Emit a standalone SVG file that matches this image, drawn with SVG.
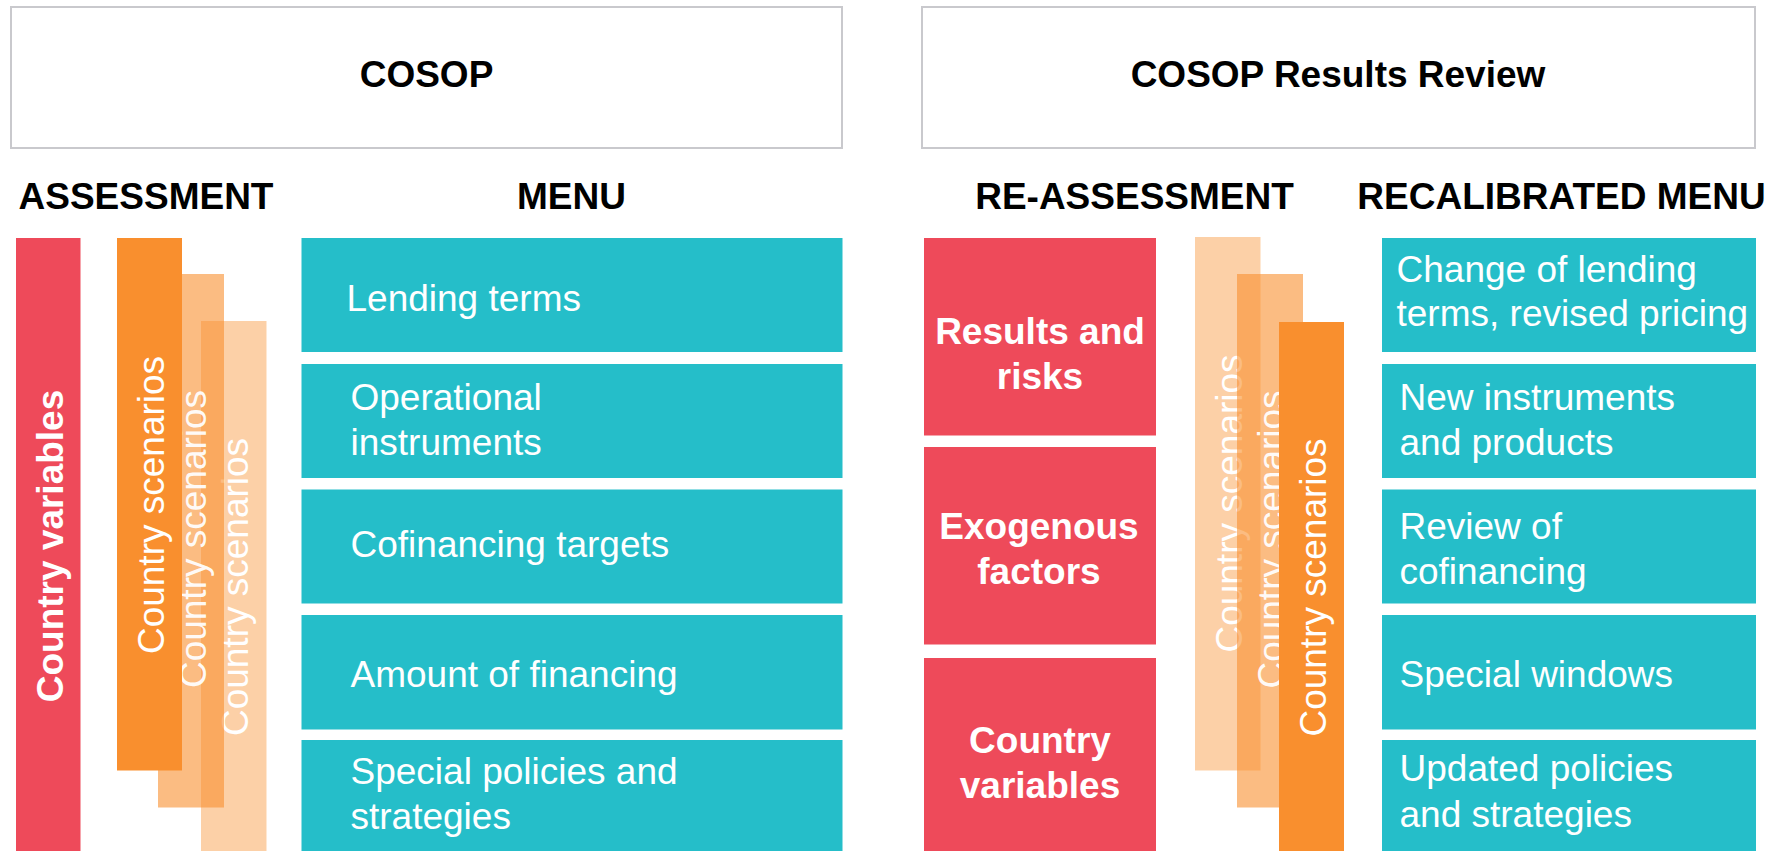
<svg xmlns="http://www.w3.org/2000/svg" width="1778" height="851" viewBox="0 0 1778 851">
<style>
text{font-family:"Liberation Sans",Arial,Helvetica,sans-serif;font-size:37px}
.hdr{fill:#fff;stroke:#c9c9cd;stroke-width:2}
.h{font-weight:bold;fill:#000}
.red{fill:#EE4A5A}
.teal{fill:#25BEC9}
.or{fill:#F98F2E}
.or2{fill:#F98F2E;fill-opacity:0.6}
.or3{fill:#F98F2E;fill-opacity:0.42}
.w{fill:#fff}
.wb{fill:#fff;font-weight:bold}
.mid{text-anchor:middle}
</style>
<rect width="1778" height="851" fill="#fff"/>
<g id="cosop">
<rect class="hdr" x="11" y="7" width="831" height="141"/>
<text class="h mid" x="426.5" y="87">COSOP</text>
</g>
<g id="cosop-results-review">
<rect class="hdr" x="922" y="7" width="833" height="141"/>
<text class="h mid" x="1338" y="87">COSOP Results Review</text>
</g>
<g id="headings">
<text class="h mid" x="146" y="209">ASSESSMENT</text>
<text class="h mid" x="571.5" y="209">MENU</text>
<text class="h mid" x="1134.5" y="209">RE-ASSESSMENT</text>
<text class="h mid" x="1561.5" y="209">RECALIBRATED MENU</text>
</g>
<g id="country-variables-left">
<rect class="red" x="16" y="238" width="64.5" height="613"/>
<text class="wb mid" transform="translate(63,546) rotate(-90)">Country variables</text>
</g>
<g id="scenarios-left-3">
<rect class="or3" x="201" y="321" width="65.5" height="530"/>
<text class="w mid" transform="translate(248,587) rotate(-90)">Country scenarios</text>
</g>
<g id="scenarios-left-2">
<rect class="or2" x="158" y="274" width="66" height="533.5"/>
<text class="w mid" fill-opacity="0.95" transform="translate(205.5,539) rotate(-90)">Country scenarios</text>
</g>
<g id="scenarios-left-1">
<rect class="or" x="117" y="238" width="65" height="532.5"/>
<text class="w mid" transform="translate(163.5,505) rotate(-90)">Country scenarios</text>
</g>
<g id="menu-lending">
<rect class="teal" x="301.5" y="238" width="541" height="114"/>
<text class="w" x="346.5" y="311">Lending terms</text>
</g>
<g id="menu-operational">
<rect class="teal" x="301.5" y="364" width="541" height="114"/>
<text class="w" x="350.5" y="410">Operational</text>
<text class="w" x="350.5" y="454.5">instruments</text>
</g>
<g id="menu-cofinancing">
<rect class="teal" x="301.5" y="489.5" width="541" height="114"/>
<text class="w" x="350.5" y="556.5">Cofinancing targets</text>
</g>
<g id="menu-amount">
<rect class="teal" x="301.5" y="615" width="541" height="114.5"/>
<text class="w" x="350.5" y="687">Amount of financing</text>
</g>
<g id="menu-special">
<rect class="teal" x="301.5" y="740" width="541" height="111"/>
<text class="w" x="350.5" y="784">Special policies and</text>
<text class="w" x="350.5" y="829">strategies</text>
</g>
<g id="results-risks">
<rect class="red" x="924" y="238" width="232" height="197.5"/>
<text class="wb mid" x="1040" y="344">Results and</text>
<text class="wb mid" x="1040" y="388.5">risks</text>
</g>
<g id="exogenous-factors">
<rect class="red" x="924" y="447" width="232" height="197.5"/>
<text class="wb mid" x="1039" y="538.5">Exogenous</text>
<text class="wb mid" x="1039" y="583.5">factors</text>
</g>
<g id="country-variables-right">
<rect class="red" x="924" y="658" width="232" height="193"/>
<text class="wb mid" x="1040" y="753">Country</text>
<text class="wb mid" x="1040" y="798">variables</text>
</g>
<g id="scenarios-right-1">
<rect class="or3" x="1195" y="237" width="65.5" height="533.5"/>
<text class="w mid" transform="translate(1242,503.5) rotate(-90)">Country scenarios</text>
</g>
<g id="scenarios-right-2">
<rect class="or2" x="1237" y="274" width="66" height="533.5"/>
<text class="w mid" fill-opacity="0.95" transform="translate(1284,539.5) rotate(-90)">Country scenarios</text>
</g>
<g id="scenarios-right-3">
<rect class="or" x="1279" y="322" width="65" height="529"/>
<text class="w mid" transform="translate(1325.5,587.5) rotate(-90)">Country scenarios</text>
</g>
<g id="recal-lending">
<rect class="teal" x="1382" y="238" width="374" height="114"/>
<text class="w" x="1396.5" y="282">Change of lending</text>
<text class="w" x="1396.5" y="326">terms, revised pricing</text>
</g>
<g id="recal-instruments">
<rect class="teal" x="1382" y="364" width="374" height="114"/>
<text class="w" x="1399.5" y="410">New instruments</text>
<text class="w" x="1399.5" y="454.5">and products</text>
</g>
<g id="recal-cofinancing">
<rect class="teal" x="1382" y="489.5" width="374" height="114"/>
<text class="w" x="1399.5" y="539">Review of</text>
<text class="w" x="1399.5" y="583.5">cofinancing</text>
</g>
<g id="recal-windows">
<rect class="teal" x="1382" y="615" width="374" height="114.5"/>
<text class="w" x="1399.5" y="687">Special windows</text>
</g>
<g id="recal-policies">
<rect class="teal" x="1382" y="740" width="374" height="111"/>
<text class="w" x="1399.5" y="781">Updated policies</text>
<text class="w" x="1399.5" y="826.5">and strategies</text>
</g>
<g id="connectors"></g>
</svg>
